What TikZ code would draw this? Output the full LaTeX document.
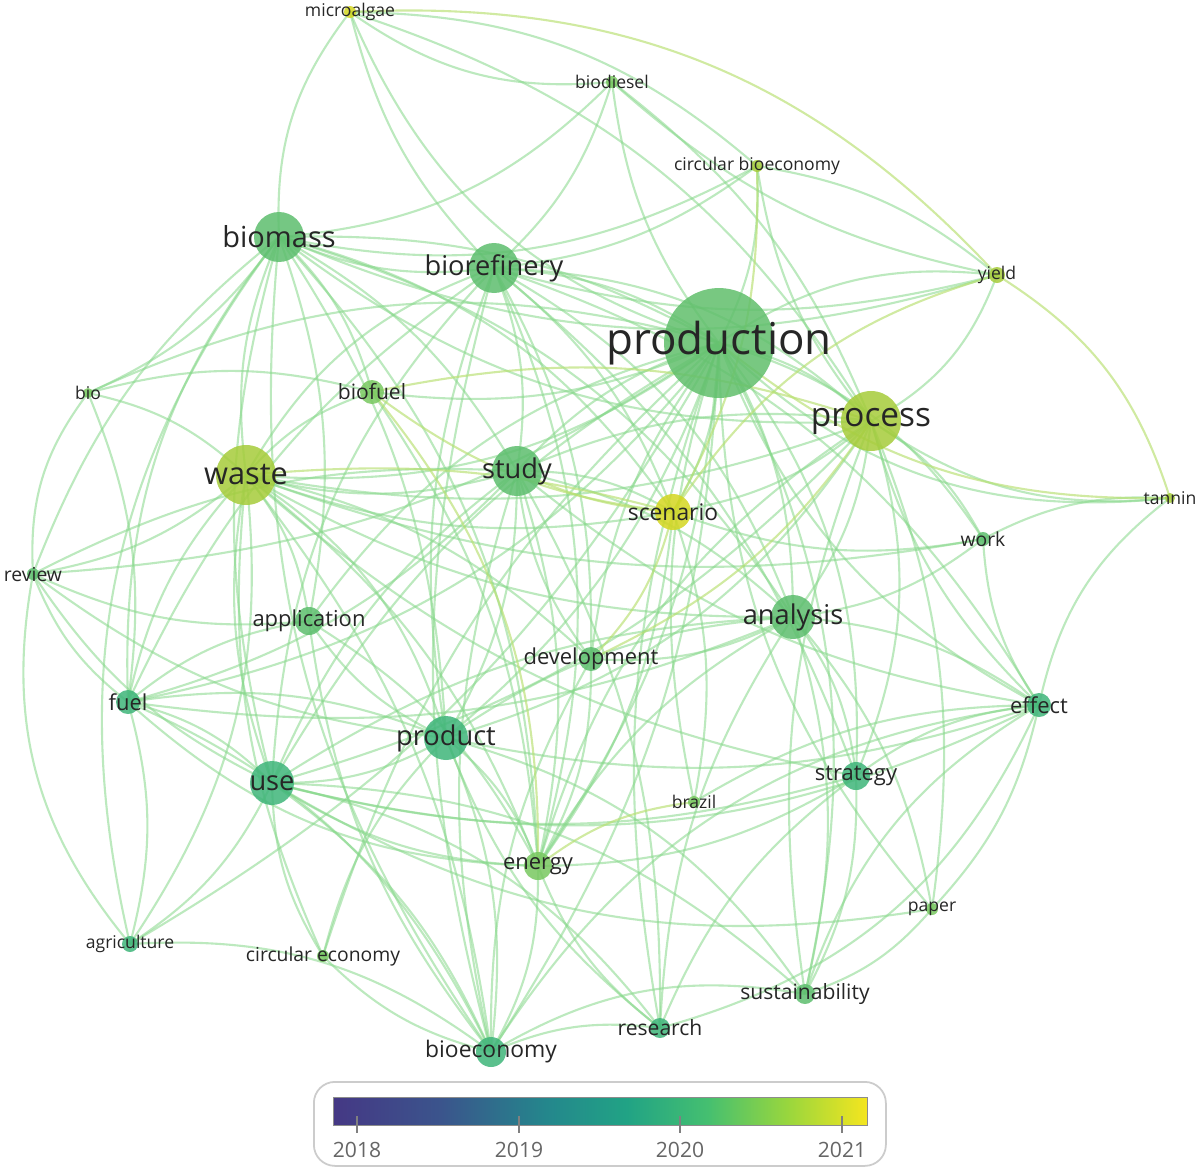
\documentclass[tikz,border=0pt]{standalone}
\usepackage{fontspec}
\setmainfont{Open Sans}
\pgfdeclarehorizontalshading{viridis}{100bp}{rgb(0bp)=(0.27,0.22,0.52); rgb(25bp)=(0.27,0.22,0.52); rgb(35bp)=(0.23,0.33,0.55); rgb(45bp)=(0.14,0.53,0.55); rgb(52.5bp)=(0.13,0.64,0.52); rgb(60bp)=(0.27,0.75,0.44); rgb(67.5bp)=(0.60,0.84,0.24); rgb(75bp)=(0.96,0.90,0.12); rgb(100bp)=(0.96,0.90,0.12)}
\definecolor{cA}{HTML}{5DBE6E}
\definecolor{cB}{HTML}{78C860}
\definecolor{cC}{HTML}{A6CC3A}
\definecolor{cD}{HTML}{D4D620}
\definecolor{cT}{HTML}{3FB57A}
\definecolor{cE}{HTML}{86D88A}
\definecolor{cF}{HTML}{B8E070}
\tikzset{
 edge/.style={draw=cE,line width=1.2pt,opacity=0.55},
 edgey/.style={draw=cF,line width=1.2pt,opacity=0.65},
 dot/.style={circle,inner sep=0pt,opacity=0.85},
 lab/.style={text=black!85,inner sep=0pt},
}
\begin{document}
\begin{tikzpicture}[x=0.02cm,y=-0.02cm]
\useasboundingbox (0,0) rectangle (1200,1171);
\fill[white] (0,0) rectangle (1200,1171);
\foreach \n/\x/\y in {microalgae/350/12, biodiesel/612/82, cbio/757/166, yield/997/275, biomass/279/237, biorefinery/494/268, production/719/343, process/871/421, bio/88/393, biofuel/372/392, waste/246/475, study/517/471, scenario/673/512, tannin/1170/498, work/983/539, review/33/574, application/309/621, analysis/793/617, development/591/659, fuel/128/702, effect/1039/705, product/446/738, use/272/783, strategy/856/776, brazil/694/802, energy/538/866, paper/932/909, agriculture/130/944, ceco/323/956, sustainability/805/994, research/660/1028, bioeconomy/491/1052}
  \coordinate (\n) at (\x,\y);
% edges
\foreach \a/\b/\c in {production/microalgae/25, production/biodiesel/15, production/cbio/-15, production/yield/20, production/biomass/-15, production/biorefinery/-15, production/process/15, production/bio/-20, production/biofuel/15, production/waste/20, production/study/-15, production/scenario/15, production/tannin/-25, production/work/20, production/review/15, production/application/-20, production/analysis/15, production/development/-15, production/fuel/20, production/effect/-20, production/product/15, production/use/-15, production/strategy/20, production/brazil/-15, production/energy/15, production/paper/-20, production/agriculture/15, production/ceco/-15, production/sustainability/20, production/research/-15, production/bioeconomy/15,
 biomass/microalgae/20, biomass/biodiesel/-20, biomass/cbio/-20, biomass/biorefinery/-15, biomass/process/-20, biomass/bio/15, biomass/biofuel/15, biomass/waste/-15, biomass/study/15, biomass/scenario/20, biomass/review/-15, biomass/application/15, biomass/analysis/20, biomass/fuel/-20, biomass/product/15, biomass/use/-15, biomass/energy/20, biomass/agriculture/-25, biomass/bioeconomy/-20, biomass/yield/-20,
 biorefinery/microalgae/15, biorefinery/biodiesel/-15, biorefinery/cbio/-15, biorefinery/process/20, biorefinery/waste/-20, biorefinery/study/15, biorefinery/scenario/15, biorefinery/analysis/20, biorefinery/development/15, biorefinery/product/-15, biorefinery/use/-20, biorefinery/fuel/-15, biorefinery/energy/20, biorefinery/bioeconomy/-15, biorefinery/strategy/15, biorefinery/effect/20, biorefinery/yield/-15,
 process/yield/-20, process/cbio/15, process/tannin/-20, process/work/15, process/waste/15, process/study/-15, process/scenario/15, process/analysis/15, process/effect/-15, process/strategy/20, process/product/20, process/use/15, process/energy/-20, process/sustainability/-15, process/paper/15, process/microalgae/-20, process/biodiesel/-15,
 waste/bio/-15, waste/review/15, waste/biofuel/15, waste/study/-15, waste/scenario/-15, waste/application/15, waste/fuel/-15, waste/product/20, waste/use/-15, waste/energy/15, waste/analysis/-15, waste/development/15, waste/agriculture/20, waste/ceco/-15, waste/bioeconomy/15, waste/strategy/-15, waste/work/-15,
 study/scenario/15, study/analysis/15, study/development/-15, study/product/15, study/use/-15, study/energy/15, study/effect/-15, study/research/15, study/fuel/15, study/review/-15, study/bioeconomy/-15,
 analysis/work/-15, analysis/effect/15, analysis/strategy/15, analysis/product/-15, analysis/use/-15, analysis/paper/15, analysis/sustainability/15, analysis/research/-15, analysis/energy/-15, analysis/fuel/15,
 product/use/15, product/fuel/-15, product/bioeconomy/15, product/energy/15, product/research/-15, product/application/15, product/effect/-15, product/sustainability/20, product/review/15, product/ceco/-15,
 use/fuel/-15, use/review/15, use/agriculture/15, use/ceco/-15, use/bioeconomy/15, use/effect/-20, use/strategy/-15, use/energy/-15, use/research/20, use/paper/-20, use/sustainability/20,
 fuel/review/15, fuel/bio/-15, fuel/agriculture/15, fuel/energy/-20, fuel/bioeconomy/20, application/review/15, application/fuel/-15, application/bioeconomy/-15, application/energy/15,
 effect/tannin/20, effect/strategy/-15, effect/paper/15, effect/sustainability/-20, effect/research/25, effect/work/15, effect/bioeconomy/-25, effect/brazil/-15,
 strategy/sustainability/15, strategy/research/-15, strategy/energy/15, energy/bioeconomy/15, energy/research/-15, bioeconomy/research/15, bioeconomy/sustainability/20, bioeconomy/agriculture/-20, bioeconomy/ceco/15, agriculture/review/25, review/bio/20, development/energy/15, development/analysis/-15, development/bioeconomy/-15, scenario/energy/15, scenario/brazil/15, scenario/work/-15, biofuel/bio/-15, biofuel/energy/15, microalgae/biodiesel/-20, biodiesel/yield/-15, cbio/yield/15, cbio/microalgae/-20, work/tannin/15, paper/sustainability/15}
  \draw[edge] (\a) to[bend left=\c] (\b);
\foreach \a/\b/\c in {scenario/waste/-10, scenario/study/10, scenario/cbio/-15, scenario/yield/20, scenario/biofuel/15, process/biofuel/-15, production/tannin/-20, yield/tannin/20, process/development/15, brazil/energy/-15, energy/biofuel/-20, microalgae/yield/25, scenario/development/15}
  \draw[edgey] (\a) to[bend left=\c] (\b);
% nodes
\foreach \n/\r/\col in {microalgae/6/cD, biodiesel/6/cB, cbio/6/cC, yield/8/cC, biomass/25/cA, biorefinery/25/cA, production/55/cA!85!cB, process/30/cC, bio/5/cB, biofuel/12/cB, waste/30/cC, study/25/cA, scenario/18/cD, tannin/5/cC, work/7/cA, review/6/cA, application/14/cA, analysis/22/cA, development/12/cA, fuel/12/cT, effect/12/cT, product/22/cT, use/22/cT, strategy/14/cT, brazil/6/cB, energy/14/cB, paper/6/cB, agriculture/8/cT, ceco/6/cB, sustainability/10/cA, research/10/cT, bioeconomy/15/cT}
  \node[dot,fill=\col,minimum size=\r*0.04cm] (\n-d) at (\n) {};
% labels
\newcommand\lb[4]{\node[lab,font=\fontsize{#3}{#3}\selectfont] (#1-l) at (#2) {#4};}
\lb{microalgae}{microalgae}{10}{microalgae}
\lb{biodiesel}{biodiesel}{10}{biodiesel}
\lb{cbio}{cbio}{10}{circular bioeconomy}
\lb{yield}{yield}{10}{yield}
\lb{biomass}{biomass}{16.5}{biomass}
\lb{biorefinery}{biorefinery}{15.5}{biorefinery}
\lb{production}{production}{25}{production}
\lb{process}{process}{19}{process}
\lb{bio}{bio}{10}{bio}
\lb{biofuel}{biofuel}{12}{biofuel}
\lb{waste}{waste}{17.5}{waste}
\lb{study}{study}{15.5}{study}
\lb{scenario}{scenario}{13}{scenario}
\lb{tannin}{tannin}{10}{tannin}
\lb{work}{work}{11}{work}
\lb{review}{review}{11}{review}
\lb{application}{application}{12.5}{application}
\lb{analysis}{analysis}{15.5}{analysis}
\lb{development}{development}{12.5}{development}
\lb{fuel}{fuel}{12.5}{fuel}
\lb{effect}{effect}{12.5}{effect}
\lb{product}{product}{15.5}{product}
\lb{use}{use}{15.5}{use}
\lb{strategy}{strategy}{12.5}{strategy}
\lb{brazil}{brazil}{10}{brazil}
\lb{energy}{energy}{12.5}{energy}
\lb{paper}{paper}{10}{paper}
\lb{agriculture}{agriculture}{10}{agriculture}
\lb{ceco}{ceco}{11}{circular economy}
\lb{sustainability}{sustainability}{12}{sustainability}
\lb{research}{research}{12}{research}
\lb{bioeconomy}{bioeconomy}{13}{bioeconomy}
% colour bar
\node[draw=black!20,line width=1pt,rounded corners=12pt,minimum width=572*0.02cm,minimum height=84*0.02cm,anchor=north west,inner sep=0pt] (legend) at (313,1081) {};
\node[draw=black!45,line width=0.8pt,shading=viridis,minimum width=534*0.02cm,minimum height=28*0.02cm,anchor=north west,inner sep=0pt] (bar) at (333,1097) {};
\foreach \x/\t in {357/2018,519/2019,680/2020,842/2021}{
  \coordinate (t\t a) at (\x,1116);
  \coordinate (t\t b) at (\x,1133);
  \draw[black!50,line width=0.8pt] (t\t a) -- (t\t b);
  \node[text=black!60,font=\fontsize{12}{12}\selectfont,inner sep=0pt] (y\t) at (\x,1150) {\t};
}
\end{tikzpicture}
\end{document}
